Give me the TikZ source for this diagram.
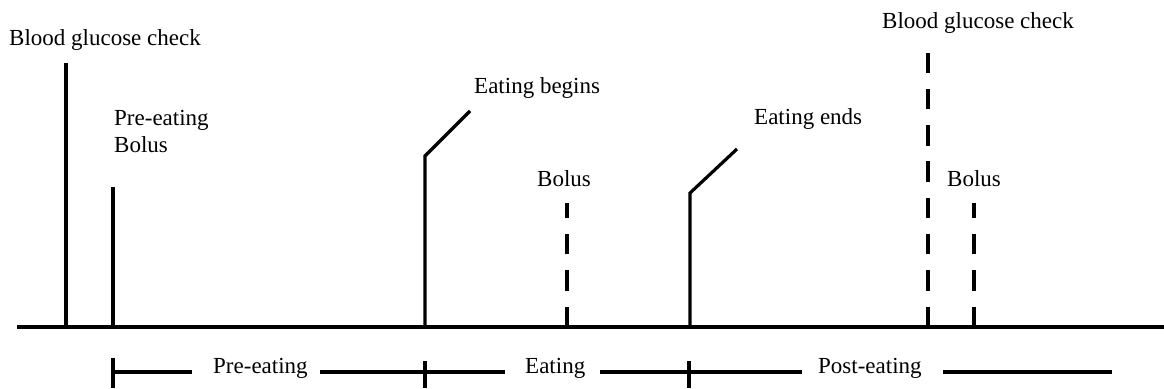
\documentclass[tikz,border=0pt]{standalone}
\usepackage{fontspec}
\setmainfont{Liberation Serif}
\begin{document}
\begin{tikzpicture}[x=1pt,y=-1pt,
  lbl/.style={inner sep=0pt, anchor=base west, font=\fontsize{23}{27}\selectfont},
  solidline/.style={line width=3.2pt},
  dashline/.style={line width=3.2pt, dash pattern=on 20.5pt off 15.8pt},
  axisline/.style={line width=4pt},
  spanline/.style={line width=3.5pt}]
\useasboundingbox (0,0) rectangle (1164,388);

% axis
\coordinate (axL) at (17,327);
\coordinate (axR) at (1164,327);
\draw[axisline] (axL) -- (axR);

% labels
\node[lbl] (bg1) at (9,45) {Blood glucose check};
\node[lbl] (pre1) at (114,125) {Pre-eating};
\node[lbl] (pre2) at (114,152) {Bolus};
\node[lbl] (eb) at (474,93) {Eating begins};
\node[lbl] (bol1) at (537,186) {Bolus};
\node[lbl] (ee) at (754,124) {Eating ends};
\node[lbl] (bg2) at (882,28) {Blood glucose check};
\node[lbl] (bol2) at (947,186) {Bolus};

% event lines
\coordinate (bgAb) at (66,327);   \coordinate (bgAt) at (66,63);
\coordinate (pbB) at (113,327);   \coordinate (pbT) at (113,187);
\coordinate (ebB) at (425,327);   \coordinate (ebK) at (425,156);  \coordinate (ebT) at (470,111);
\coordinate (b1B) at (567,327);   \coordinate (b1T) at (567,203);
\coordinate (eeB) at (690,327);   \coordinate (eeK) at (690,193);  \coordinate (eeT) at (737,149);
\coordinate (bgBb) at (928,327);  \coordinate (bgBt) at (928,52.5);
\coordinate (b2B) at (974,327);   \coordinate (b2T) at (974,203);

\draw[solidline] (bgAb) -- (bgAt);
\draw[solidline] (pbB) -- (pbT);
\draw[solidline] (ebB) -- (ebK) -- (ebT);
\draw[dashline] (b1B) -- (b1T);
\draw[solidline] (eeB) -- (eeK) -- (eeT);
\draw[dashline] (bgBb) -- (bgBt);
\draw[dashline] (b2B) -- (b2T);

% period labels
\node[lbl] (pPre) at (213,373) {Pre-eating};
\node[lbl] (pEat) at (525,373) {Eating};
\node[lbl] (pPost) at (818,373) {Post-eating};

% period ticks and spans
\coordinate (t1T) at (113,358); \coordinate (t1B) at (113,388);
\coordinate (t2T) at (425,361); \coordinate (t2B) at (425,388);
\coordinate (t3T) at (689,361); \coordinate (t3B) at (689,388);
\draw[spanline] (t1T) -- (t1B);
\draw[spanline] (t2T) -- (t2B);
\draw[spanline] (t3T) -- (t3B);

\coordinate (s1a) at (113,372); \coordinate (s1b) at (192,372);
\coordinate (s2a) at (320,372); \coordinate (s2b) at (505,372);
\coordinate (s3a) at (600,372); \coordinate (s3b) at (802,372);
\coordinate (s4a) at (943,372); \coordinate (s4b) at (1112,372);
\draw[spanline] (s1a) -- (s1b);
\draw[spanline] (s2a) -- (s2b);
\draw[spanline] (s3a) -- (s3b);
\draw[spanline] (s4a) -- (s4b);
\end{tikzpicture}
\end{document}
